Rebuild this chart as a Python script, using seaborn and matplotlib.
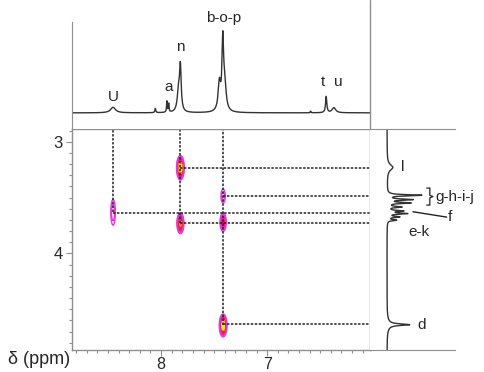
import numpy as np
import pandas as pd
import matplotlib
matplotlib.use("Agg")
import matplotlib.pyplot as plt
from matplotlib.ticker import MultipleLocator
from matplotlib.lines import Line2D
import seaborn as sns

# --- data ---
# 1D proton trace on top (ppm, height, half width)
top_ppm = [8.453, 8.054, 7.945, 7.928, 7.835, 7.818, 7.45, 7.418, 7.40, 6.59, 6.443, 6.37]
top_height = [0.065, 0.05, 0.13, 0.10, 0.25, 0.5, 0.33, 0.78, 0.3, 0.02, 0.19, 0.06]
top_width = [0.028, 0.005, 0.004, 0.004, 0.014, 0.009, 0.014, 0.009, 0.016, 0.004, 0.007, 0.02]
top_labels = ["U", "a", "n", "b-o-p", "t", "u"]
top_label_x = [8.453, 7.928, 7.818, 7.41, 6.472, 6.325]
top_label_y = [0.19, 0.31, 0.78, 1.12, 0.36, 0.36]

# 1D trace on the right side
side_ppm = [3.23, 3.479, 3.518, 3.548, 3.584, 3.62, 3.643, 3.673, 3.702, 4.638, 4.638]
side_height = [0.085, 0.5, 0.36, 0.33, 0.2, 0.22, 0.28, 0.17, 0.13, 0.3, 0.035]
side_width = [0.03, 0.006, 0.006, 0.006, 0.006, 0.006, 0.006, 0.006, 0.006, 0.008, 0.045]

# cross peaks (x ppm, y ppm, intensity, vertical spread)
cross_x = [8.453, 7.818, 7.818, 7.415, 7.415, 7.415]
cross_y = [3.632, 3.233, 3.73, 3.487, 3.72, 4.645]
cross_amp = [0.14, 1.0, 0.6, 0.13, 0.35, 1.0]
cross_sy = [0.08, 0.045, 0.042, 0.045, 0.042, 0.042]

# dashed correlation lines
vline_x = [8.453, 7.818, 7.415]
vline_from = [3.632, 3.73, 4.645]
hline_y = [3.233, 3.484, 3.639, 3.726, 4.636]
hline_from = [7.818, 7.415, 8.453, 7.818, 7.415]

XLIM = (8.84, 6.03)
YLIM = (4.865, 2.886)


def lorentz(x, pos, h, w):
    out = np.zeros_like(x)
    for p, a, g in zip(pos, h, w):
        out += a * g**2 / ((x - p)**2 + g**2)
    return out


sns.set_style("ticks")
plt.rcParams["font.family"] = ["Liberation Sans", "DejaVu Sans"]
grey = "#8f8f8f"

W, H = 484, 372
fig = plt.figure(figsize=(W / 100, H / 100), dpi=100)


def box(x0, y0, x1, y1):
    return [x0 / W, 1 - y1 / H, (x1 - x0) / W, (y1 - y0) / H]


ax = fig.add_axes(box(72, 129, 370, 350))
ax_top = fig.add_axes(box(72, 22, 370, 129), sharex=ax)
ax_side = fig.add_axes(box(370, 129, 455, 350), sharey=ax)

# --- 2D map ---
gx = np.linspace(XLIM[1], XLIM[0], 1600)
gy = np.linspace(YLIM[1], YLIM[0], 600)
X, Y = np.meshgrid(gx, gy)
Z = np.zeros_like(X)
for cx, cy, a, sy in zip(cross_x, cross_y, cross_amp, cross_sy):
    Z += a * np.exp(-((X - cx)**2 / (2 * 0.015**2) + (Y - cy)**2 / (2 * sy**2)))

ax.contourf(X, Y, Z, levels=[0.15, 0.28, 0.5, 0.72, 5],
            colors=["#dc1e78", "#e82238", "#f27a20", "#f7dc38"])
ax.contour(X, Y, Z, levels=[0.05, 0.09], colors="#e23ada", linewidths=1.0)

for x, y0 in zip(vline_x, vline_from):
    ax.plot([x, x], [y0, YLIM[1]], color="#222222", lw=1.1, ls=(0, (1.6, 1)))
for y, x0 in zip(hline_y, hline_from):
    ax.plot([x0, XLIM[1]], [y, y], color="#222222", lw=1.1, ls=(0, (1.6, 1)))

ax.set_xlim(XLIM)
ax.set_ylim(YLIM)
ax.set_xticks([8, 7])
ax.set_yticks([3, 4])
ax.xaxis.set_minor_locator(MultipleLocator(0.1))
ax.yaxis.set_minor_locator(MultipleLocator(0.1))
ax.tick_params(which="major", length=4.5, width=0.8, color=grey, labelsize=12, pad=2)
ax.tick_params(axis="x", which="major", labelsize=11.5, pad=0.3)
ax.tick_params(which="minor", length=2.5, width=0.8, color=grey)
for s in ax.spines.values():
    s.set_color(grey)
    s.set_linewidth(1.0)

# --- top trace ---
xs = np.linspace(XLIM[1], XLIM[0], 3000)
top_df = pd.DataFrame({"ppm": xs, "I": lorentz(xs, top_ppm, top_height, top_width)})
sns.lineplot(data=top_df, x="ppm", y="I", ax=ax_top, color="#333333", lw=1.0,
             estimator=None, sort=False)
ax_top.set_ylim(-0.19, 1.07)
ax_top.set_xlabel("")
ax_top.set_ylabel("")
ax_top.set_yticks([])
ax_top.tick_params(axis="x", which="both", length=0, labelbottom=False)
for side in ["top", "right", "bottom"]:
    ax_top.spines[side].set_visible(False)
ax_top.spines["left"].set_color(grey)
for lab, lx, ly in zip(top_labels, top_label_x, top_label_y):
    ax_top.text(lx, ly, lab, ha="center", va="center", fontsize=11, clip_on=False)

# --- side trace ---
ys = np.linspace(YLIM[1], YLIM[0], 3000)
side_df = pd.DataFrame({"ppm": ys, "I": lorentz(ys, side_ppm, side_height, side_width)})
sns.lineplot(data=side_df, x="I", y="ppm", ax=ax_side, color="#333333", lw=1.0,
             estimator=None, sort=False, orient="y")
ax_side.set_xlim(-0.25, 1.0)
ax_side.set_xlabel("")
ax_side.set_ylabel("")
ax_side.set_xticks([])
ax_side.tick_params(axis="y", which="both", length=0, labelleft=False)
ax_side.spines["left"].set_visible(False)
ax_side.spines["right"].set_visible(False)
ax_side.spines["top"].set_color(grey)
ax_side.spines["bottom"].set_color(grey)

ax_side.text(0.235, 3.227, "l", ha="center", va="center", fontsize=11)
ax_side.plot([0.584, 0.63, 0.63, 0.676, 0.63, 0.63, 0.584],
             [3.415, 3.415, 3.48, 3.491, 3.502, 3.567, 3.567],
             color="#222222", lw=0.9, clip_on=False)
ax_side.text(0.706, 3.493, "g-h-i-j", ha="left", va="center", fontsize=11, clip_on=False)
ax_side.plot([0.382, 0.878], [3.627, 3.675], color="#222222", lw=1.0, clip_on=False)
ax_side.text(0.897, 3.675, "f", ha="left", va="center", fontsize=11, clip_on=False)
ax_side.text(0.309, 3.806, "e-k", ha="left", va="center", fontsize=11)
ax_side.text(0.441, 4.642, "d", ha="left", va="center", fontsize=11)

# border line shared by top and side panels
fig.add_artist(Line2D([370 / W, 370 / W], [1 - 129 / H, 1.0], color=grey, lw=1.0))

fig.text(8 / W, 1 - 364 / H, "δ (ppm)", fontsize=13, ha="left", va="baseline")

fig.savefig("out.png", dpi=100)
